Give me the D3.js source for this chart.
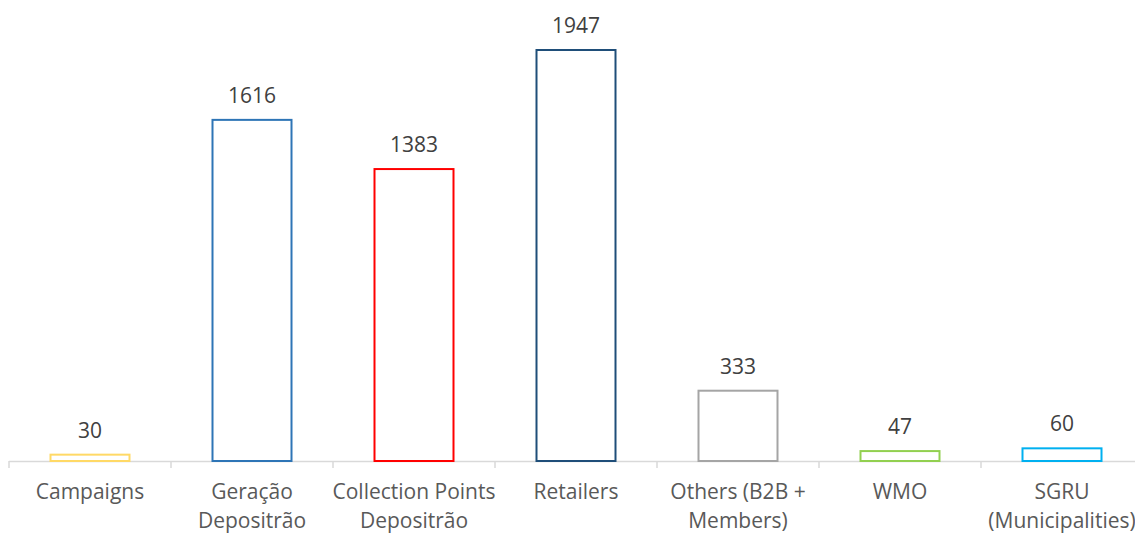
<!DOCTYPE html>
<html>
<head>
<meta charset="utf-8">
<script src="https://cdn.jsdelivr.net/npm/d3@7"></script>
<style>
  body { margin: 0; background: #fff; overflow: hidden; }
  svg { display: block; font-family: "Open Sans", sans-serif; }
</style>
</head>
<body>
<div id="chart"></div>
<script>
const categories = ["Campaigns", "Geração Depositrão", "Collection Points Depositrão", "Retailers", "Others (B2B + Members)", "WMO", "SGRU (Municipalities)"];
const labelLines = [["Campaigns"], ["Geração", "Depositrão"], ["Collection Points", "Depositrão"], ["Retailers"], ["Others (B2B +", "Members)"], ["WMO"], ["SGRU", "(Municipalities)"]];
const values = [30, 1616, 1383, 1947, 333, 47, 60];
const colors = ["#FFD966", "#2E75B6", "#FF0000", "#1F4E79", "#A5A5A5", "#92D050", "#00B0F0"];

const width = 1135;
const height = 533;
const base = 461;

const x = d3.scaleBand()
  .domain(categories)
  .range([9, 1143])
  .paddingInner(0.5)
  .paddingOuter(0.25);

const y = d3.scaleLinear()
  .domain([0, 1947])
  .range([base, 50]);

const svg = d3.select("#chart")
  .append("svg")
  .attr("width", width)
  .attr("height", height);

// axis line + ticks between categories
const step = x.step();
const edges = d3.range(categories.length + 1).map(i => 9 + i * step);

svg.append("line")
  .attr("x1", 9).attr("x2", 1143)
  .attr("y1", base + 0.5).attr("y2", base + 0.5)
  .attr("stroke", "#d9d9d9")
  .attr("stroke-width", 1.5);

svg.selectAll(".tick")
  .data(edges)
  .enter()
  .append("line")
  .attr("x1", d => d).attr("x2", d => d)
  .attr("y1", base).attr("y2", base + 7)
  .attr("stroke", "#d9d9d9")
  .attr("stroke-width", 1.5);

svg.selectAll("rect")
  .data(values)
  .enter()
  .append("rect")
  .attr("x", (d, i) => x(categories[i]) + 1)
  .attr("y", d => y(d))
  .attr("width", x.bandwidth() - 2)
  .attr("height", d => base - y(d))
  .attr("fill", "none")
  .attr("stroke", (d, i) => colors[i])
  .attr("stroke-width", 2);

svg.selectAll(".val")
  .data(values)
  .enter()
  .append("text")
  .attr("x", (d, i) => x(categories[i]) + x.bandwidth() / 2)
  .attr("y", d => y(d) - 17)
  .attr("text-anchor", "middle")
  .attr("font-size", "21px")
  .attr("fill", "#404040")
  .text(d => d);

const lab = svg.selectAll(".lab")
  .data(labelLines)
  .enter()
  .append("text")
  .attr("text-anchor", "middle")
  .attr("font-size", "21px")
  .attr("fill", "#595959");

lab.selectAll("tspan")
  .data((d, i) => d.map((t, j) => ({t, j, i})))
  .enter()
  .append("tspan")
  .attr("x", d => x(categories[d.i]) + x.bandwidth() / 2)
  .attr("y", d => 499 + d.j * 29)
  .text(d => d.t);
</script>
</body>
</html>
